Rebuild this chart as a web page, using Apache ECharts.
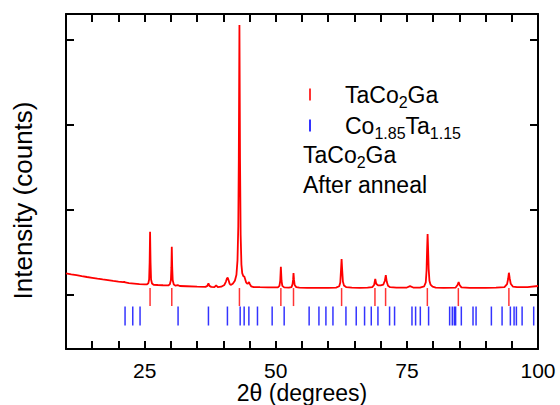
<!DOCTYPE html>
<html><head><meta charset="utf-8">
<script src="https://cdn.jsdelivr.net/npm/echarts@6/dist/echarts.min.js"></script>
<style>html,body{margin:0;padding:0;background:#fff}#c{width:560px;height:405px}</style>
</head><body><div id="c"></div>
<script>
// ---- data ----
const twoTheta = [10,11,12,13,14,15,16,17,18,19,20,20.9,21.1,21.3,22,23,24,25,25.4,25.7,25.85,25.95,26.03,26.12,26.22,26.4,26.7,27.5,28.5,29.5,29.8,30.0,30.1,30.17,30.25,30.35,30.55,30.9,31.3,31.7,33,35,36.6,36.95,37.16,37.35,37.7,38.3,38.63,38.95,39.6,40.2,40.5,40.7,40.85,41.0,41.2,41.4,41.8,42.2,42.5,42.7,42.85,42.95,43.07,43.18,43.3,43.45,43.6,43.8,44.0,44.15,44.35,44.55,44.75,44.9,45.05,45.3,45.8,47,48.5,50.4,50.7,50.85,50.97,51.1,51.25,51.6,52.5,53.0,53.2,53.3,53.38,53.48,53.6,53.9,54.5,56,58,60,61.5,62.1,62.3,62.45,62.55,62.65,62.8,63.0,63.4,64.5,66,67.5,68.4,68.75,68.97,69.15,69.5,70.0,70.5,70.8,70.98,71.15,71.4,71.8,73,75.0,75.6,76.2,77.5,78.3,78.6,78.75,78.85,78.95,79.05,79.15,79.3,79.5,79.9,80.5,82,84.3,84.65,84.87,85.05,85.4,87,90,92,93.6,94.1,94.3,94.45,94.6,94.8,95.2,96,98,100];
const intensity = [247,236,227,215,204,195,185,176,168,158,150,143,147,140,133,127,121,117,117,130,175,380,736,380,175,128,113,110,107,105,118,165,320,560,320,165,115,102,108,98,95,90,88,100,130,100,88,86,106,86,90,110,150,190,195,165,125,110,125,160,230,400,800,1600,3168,1600,700,350,250,215,210,180,140,125,130,145,120,95,86,84,82,82,100,160,325,160,100,82,78,85,120,170,250,170,110,85,78,76,76,76,80,95,140,300,415,300,150,105,86,78,76,78,85,110,180,125,105,105,115,160,227,150,100,84,78,80,96,80,80,95,140,280,520,709,520,300,160,115,90,80,76,80,110,145,110,82,76,76,78,85,120,180,254,190,125,92,84,86,98];
const taCo2GaRefl = [26.03,30.17,43.07,50.97,53.38,62.55,68.91,70.94,78.9,84.81,94.45];
const co185Ta115Refl = [21.26,22.73,24.12,31.37,37.16,40.78,43.21,43.97,44.87,46.51,49.31,51.6,56.36,58.23,59.56,60.9,63.38,65.34,66.93,68.21,69.48,71.7,72.65,75.97,76.66,77.56,79.14,83.15,83.66,84.05,84.29,85.38,87.61,88.19,91.11,93.15,94.73,95.44,95.88,96.97,99.18];
const xLabelValues = [25, 50, 75, 100];
const yTickValues = [0, 1000, 2000, 3000];
const seriesNames = ['TaCo2Ga', 'Co1.85Ta1.15'];

// ---- styling / layout ----
const FONT = 'Liberation Sans, Arial, Helvetica, sans-serif';
const RED = '#ff0000', BLUE = '#0000ff', BLACK = '#000';
const redTickLevel = -32, blueTickLevel = -255;
const subRich = { s: { fontSize: 16, lineHeight: 9, padding: [15, 0, 0, 0], fontFamily: FONT, color: BLACK } };

const curve = twoTheta.map((x, i) => [x, intensity[i]]);

const axisCommon = {
  type: 'value', min: 10, max: 100, interval: 5,
  axisLine: { show: true, onZero: false, lineStyle: { color: BLACK, width: 2 } },
  axisTick: { show: true, inside: true, length: 8, lineStyle: { color: BLACK, width: 2 } },
  splitLine: { show: false }
};
const yCommon = {
  type: 'value', min: -643, max: 3298,
  axisLine: { show: true, onZero: false, lineStyle: { color: BLACK, width: 2 } },
  axisTick: { show: true, inside: true, length: 8, customValues: yTickValues, lineStyle: { color: BLACK, width: 2 } },
  axisLabel: { show: false },
  splitLine: { show: false }
};

const chart = echarts.init(document.getElementById('c'), null, { renderer: 'svg' });
chart.setOption({
  animation: false,
  backgroundColor: '#fff',
  grid: { left: 66, right: 22, top: 14, bottom: 56, containLabel: false, outerBoundsMode: 'none' },
  xAxis: [
    Object.assign({}, axisCommon, {
      position: 'bottom',
      name: '2θ (degrees)', nameLocation: 'middle', nameGap: 32, nameMoveOverlap: false,
      nameTextStyle: { fontSize: 23, lineHeight: 23, fontFamily: FONT, color: BLACK },
      axisLabel: { show: true, customValues: xLabelValues, margin: 12, fontSize: 21, lineHeight: 18, fontFamily: FONT, color: BLACK }
    }),
    Object.assign({}, axisCommon, { position: 'top', axisLabel: { show: false } })
  ],
  yAxis: [
    Object.assign({}, yCommon, {
      position: 'left',
      name: 'Intensity (counts)', nameLocation: 'middle', nameGap: 30, nameRotate: 90, nameMoveOverlap: false,
      nameTextStyle: { fontSize: 26, fontFamily: FONT, color: BLACK, padding: [0, 38, 0, 0] }
    }),
    Object.assign({}, yCommon, { position: 'right' })
  ],
  legend: {
    orient: 'vertical', left: 309, top: 79, padding: 0, itemGap: 0,
    itemWidth: 2, itemHeight: 12, icon: 'rect',
    data: seriesNames,
    formatter: n => n === 'TaCo2Ga' ? 'TaCo{s|2}Ga' : 'Co{s|1.85}Ta{s|1.15}',
    textStyle: { fontSize: 23, lineHeight: 25, fontFamily: FONT, color: BLACK, padding: [0, 0, 0, 29], rich: subRich }
  },
  title: {
    left: 303, top: 140, padding: 0,
    text: 'TaCo{s|2}Ga\nAfter anneal',
    textStyle: { fontSize: 23, fontWeight: 'normal', lineHeight: 30, fontFamily: FONT, color: BLACK, rich: subRich }
  },
  series: [
    {
      type: 'line', name: 'pattern', data: curve, showSymbol: false, symbol: 'none',
      lineStyle: { color: RED, width: 1.8 }, z: 3
    },
    {
      type: 'scatter', name: seriesNames[0], symbol: 'rect', symbolSize: [1.5, 18],
      itemStyle: { color: RED }, data: taCo2GaRefl.map(x => [x, redTickLevel])
    },
    {
      type: 'scatter', name: seriesNames[1], symbol: 'rect', symbolSize: [1.5, 19],
      itemStyle: { color: BLUE }, data: co185Ta115Refl.map(x => [x, blueTickLevel])
    }
  ]
});
</script>
</body></html>
